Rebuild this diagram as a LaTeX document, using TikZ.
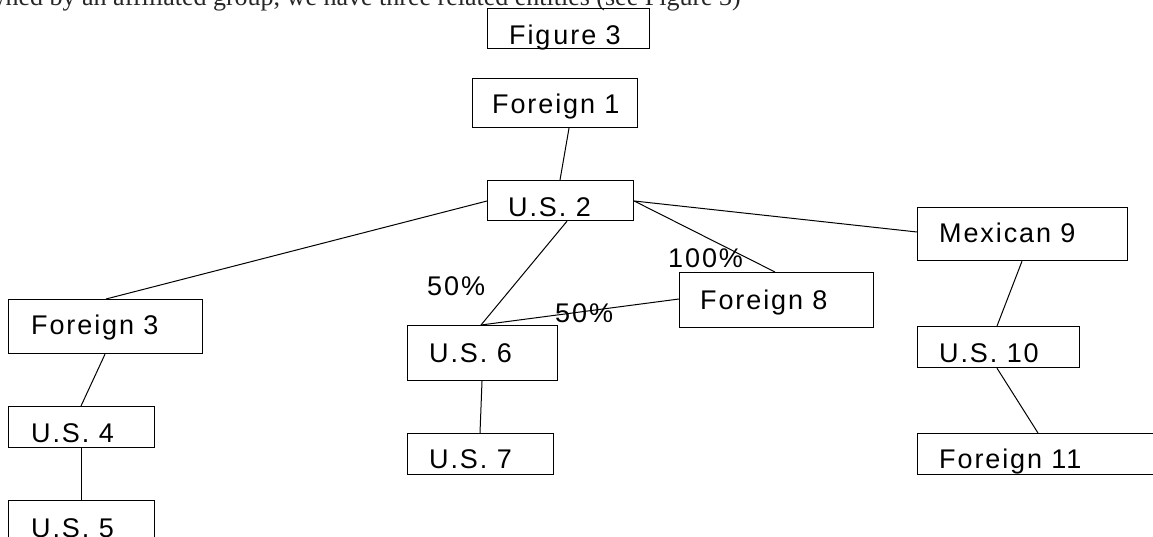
\documentclass[tikz,border=0pt]{standalone}
\usepackage{fontspec}
\setmainfont{Liberation Sans}[LetterSpace=7]
\newfontfamily\bodyserif{Liberation Serif}
\begin{document}
\begin{tikzpicture}[x=1pt,y=-1pt,
  box/.style={draw=black,line width=1.2pt,rectangle,inner sep=0pt,anchor=north west},
  txt/.style={inner sep=0pt,anchor=base west,font=\fontsize{27}{32}\selectfont},
  link/.style={draw=black,line width=1pt}]
\useasboundingbox (0,0) rectangle (1153,537);
\clip (0,0) rectangle (1153,537);
\fill[white] (0,0) rectangle (1153,537);
% cut-off body text line at the top
\node[inner sep=0pt,anchor=base east,font=\bodyserif\fontsize{26}{30}\selectfont,text=black!85] (body) at (741,6) {owned by an affiliated group, we have three related entities (see Figure 3)};
% boxes
\node[box,minimum width=162pt,minimum height=40pt] (fig) at (487,8) {};
\node[box,minimum width=165pt,minimum height=49pt] (f1) at (472,78) {};
\node[box,minimum width=146pt,minimum height=40pt] (u2) at (487,180) {};
\node[box,minimum width=194pt,minimum height=54pt] (f3) at (8,299) {};
\node[box,minimum width=146pt,minimum height=41pt] (u4) at (8,406) {};
\node[box,minimum width=146pt,minimum height=60pt] (u5) at (8,500) {};
\node[box,minimum width=150pt,minimum height=55pt] (u6) at (407,325) {};
\node[box,minimum width=146pt,minimum height=41pt] (u7) at (407,433) {};
\node[box,minimum width=194pt,minimum height=55pt] (f8) at (679,272) {};
\node[box,minimum width=210pt,minimum height=53pt] (m9) at (917,207) {};
\node[box,minimum width=162pt,minimum height=41pt] (u10) at (917,326) {};
\node[box,minimum width=263pt,minimum height=41pt] (f11) at (917,433) {};
% box texts
\node[txt] (figt) at (509,45) {Fig\kern3pt ure 3};
\node[txt] (f1t) at (492,114) {Foreign 1};
\node[txt] (u2t) at (508,217) {U.S. 2};
\node[txt] (f3t) at (31,334) {Foreign 3};
\node[txt] (u4t) at (31,442) {U.S. 4};
\node[txt] (u5t) at (31,537) {U.S. 5};
\node[txt] (u6t) at (429,362) {U.S. 6};
\node[txt] (u7t) at (429,468) {U.S. 7};
\node[txt] (f8t) at (700,309) {Foreign 8};
\node[txt] (m9t) at (939,243) {Mexican 9};
\node[txt] (u10t) at (939,362) {U.S. 10};
\node[txt] (f11t) at (939,468) {Foreign 11};
% connectors
\draw[link] ([xshift=97pt]f1.south west) -- ([xshift=73pt]u2.north west);
\draw[link] ([yshift=-21pt]u2.north west) -- ([xshift=98pt]f3.north west);
\draw[link] ([xshift=80pt]u2.south west) -- ([xshift=74pt]u6.north west);
\draw[link] ([yshift=-21pt]u2.north east) -- ([xshift=96pt]f8.north west);
\draw[link] ([yshift=-21pt]u2.north east) -- ([yshift=-25pt]m9.north west);
\draw[link] ([yshift=-27pt]f8.north west) -- ([xshift=74pt]u6.north west);
\draw[link] ([xshift=97pt]f3.south west) -- ([xshift=73pt]u4.north west);
\draw[link] ([xshift=73pt]u4.south west) -- ([xshift=73pt]u5.north west);
\draw[link] ([xshift=75pt]u6.south west) -- ([xshift=73pt]u7.north west);
\draw[link] ([xshift=105pt]m9.south west) -- ([xshift=80pt]u10.north west);
\draw[link] ([xshift=80pt]u10.south west) -- ([xshift=121pt]f11.north west);
% percentages
\node[txt] (p100) at (668,267) {100\%};
\node[txt] (p50a) at (427,295) {50\%};
\node[txt] (p50b) at (555,322) {50\%};
\end{tikzpicture}
\end{document}
